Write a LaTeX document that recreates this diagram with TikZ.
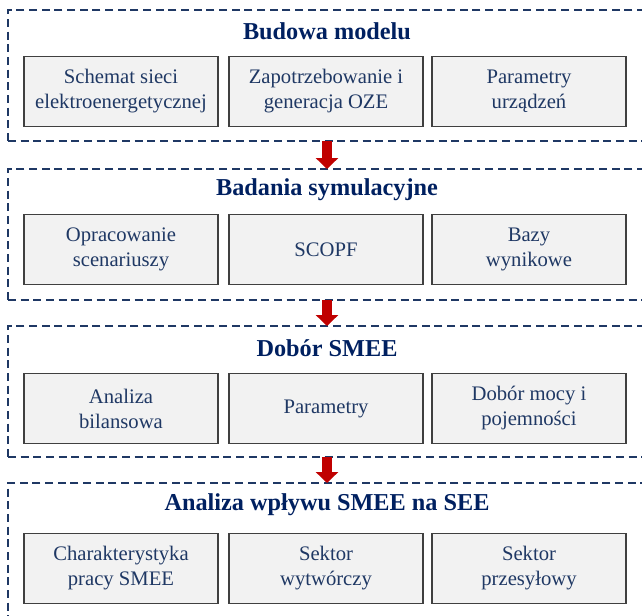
\documentclass[tikz,border=0pt]{standalone}
\usepackage{fontspec}
\setmainfont{Liberation Serif}
\usetikzlibrary{positioning}
\usetikzlibrary{arrows.meta}
\definecolor{custom-navy}{RGB}{31, 56, 100}
\definecolor{custom-title}{RGB}{0, 32, 96}
\definecolor{custom-gray}{RGB}{242, 242, 242}
\definecolor{custom-border}{RGB}{64, 64, 64}
\definecolor{custom-red}{RGB}{192, 0, 0}
\begin{document}
\begin{tikzpicture}[x=0.75pt, y=-0.75pt,
    frame/.style={draw=custom-navy, line width=1.1pt, dash pattern=on 6pt off 3.5pt, minimum width=489pt, minimum height=98.25pt, outer sep=0pt},
    title/.style={text=custom-title, font=\bfseries\fontsize{18.2}{22}\selectfont},
    stagebox/.style={draw=custom-border, fill=custom-gray, line width=1.1pt, minimum width=145.5pt, minimum height=52.5pt, align=center, text=custom-navy, font=\fontsize{15.5}{18.75}\selectfont},
    bigarrow/.style={draw=custom-red, line width=7.5pt, -{Triangle[width=16.5pt,length=8.25pt]}}]
                \useasboundingbox (0,0) rectangle (642,615);
\clip (0,0) rectangle (642,615);
\node[frame] (f1) at (334,75.5) {};
\node[frame] (f2) at (334,234.5) {};
\node[frame] (f3) at (334,391.5) {};
\node[frame, minimum height=110.25pt] (f4) at (334,556.5) {};
\node[title] (t1) at (327,31) {Budowa modelu};
\node[title] (t2) at (327,190) {Badania symulacyjne};
\node[title] (t3) at (327,348) {Dobór SMEE};
\node[title] (t4) at (327,505) {Analiza wpływu SMEE na SEE};
\node[stagebox] (b11) at (121,91.5) {Schemat sieci\\elektroenergetycznej};
\node[stagebox] (b12) at (326,91.5) {Zapotrzebowanie i\\generacja OZE};
\node[stagebox] (b13) at (529,91.5) {Parametry\\urządzeń};
\node[stagebox] (b21) at (121,249.5) {Opracowanie\\scenariuszy};
\node[stagebox] (b22) at (326,249.5) {SCOPF};
\node[stagebox] (b23) at (529,249.5) {Bazy\\wynikowe};
\node[stagebox] (b31) at (121,408.5) {Analiza\\bilansowa};
\node[stagebox] (b32) at (326,408.5) {Parametry};
\node[stagebox] (b33) at (529,408.5) {Dobór mocy i\\pojemności};
\node[stagebox] (b41) at (121,568.5) {Charakterystyka\\pracy SMEE};
\node[stagebox] (b42) at (326,568.5) {Sektor\\wytwórczy};
\node[stagebox] (b43) at (529,568.5) {Sektor\\przesyłowy};
\draw[bigarrow] (f1.south -| t1) -- (f2.north -| t1);
\draw[bigarrow] (f2.south -| t1) -- (f3.north -| t1);
\draw[bigarrow] (f3.south -| t1) -- (f4.north -| t1);
            \end{tikzpicture}
\end{document}
